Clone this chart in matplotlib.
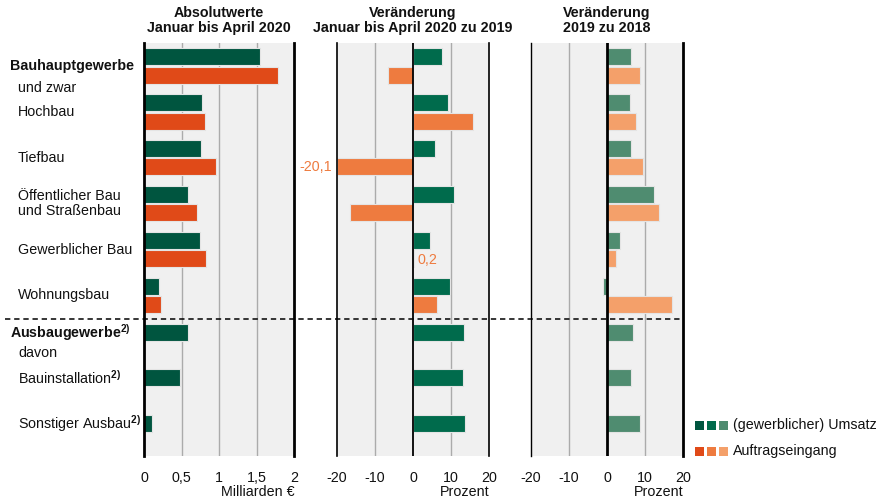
import matplotlib
matplotlib.use("Agg")
import matplotlib.pyplot as plt
from matplotlib.patches import Rectangle
from matplotlib.lines import Line2D
import matplotlib.transforms as mtransforms

plt.rcParams['font.family'] = ['Liberation Sans', 'DejaVu Sans']
plt.rcParams['mathtext.fontset'] = 'custom'
plt.rcParams['mathtext.rm'] = 'Liberation Sans'
plt.rcParams['mathtext.bf'] = 'Liberation Sans:bold'
plt.rcParams['mathtext.it'] = 'Liberation Sans'

# ---------------- data ----------------
groups = ["Bauhauptgewerbe", "Hochbau", "Tiefbau", "Öffentlicher Bau\nund Straßenbau",
          "Gewerblicher Bau", "Wohnungsbau", "Ausbaugewerbe", "Bauinstallation", "Sonstiger Ausbau"]

abs_umsatz = [1.55, 0.77, 0.76, 0.58, 0.75, 0.20, 0.59, 0.48, 0.10]
abs_auftrag = [1.78, 0.81, 0.96, 0.70, 0.83, 0.23, None, None, None]

chg20_umsatz = [7.6, 9.3, 5.7, 10.9, 4.4, 9.8, 13.3, 13.2, 13.7]
chg20_auftrag = [-6.5, 15.9, -20.1, -16.7, 0.2, 6.2, None, None, None]

chg19_umsatz = [6.3, 6.1, 6.4, 12.4, 3.5, -1.0, 6.8, 6.4, 8.6]
chg19_auftrag = [8.6, 7.7, 9.4, 13.6, 2.4, 17.2, None, None, None]

ticks_abs = [0, 0.5, 1, 1.5, 2]
ticklabels_abs = ["0", "0,5", "1", "1,5", "2"]
ticks_pct = [-20, -10, 0, 10, 20]
ticklabels_pct = ["-20", "-10", "0", "10", "20"]

# ---------------- styling ----------------
W, H = 880, 504
fig = plt.figure(figsize=(W / 100, H / 100), dpi=100)
FS = 10.3

green = ["#00553F", "#006B4C", "#4F8C70"]
orange = ["#E04A18", "#EE7B3F", "#F4A06A"]
bg = "#F0F0F0"
txtc = "#111111"

def px_axes(x0, x1, y0, y1):
    return fig.add_axes([x0 / W, 1 - y1 / H, (x1 - x0) / W, (y1 - y0) / H])

TOP, BOT = 43, 456
ax1 = px_axes(144, 294, TOP, BOT)
ax2 = px_axes(337, 489, TOP, BOT)
ax3 = px_axes(531, 683, TOP, BOT)

ypos = list(range(len(groups)))
BH = 0.37
OFF = 0.2

panels = [
    (ax1, abs_umsatz, abs_auftrag, (0, 2), ticks_abs, ticklabels_abs, [0.5, 1, 1.5], "Milliarden €",
     "Absolutwerte\nJanuar bis April 2020"),
    (ax2, chg20_umsatz, chg20_auftrag, (-20, 20), ticks_pct, ticklabels_pct, [-10, 10], "Prozent",
     "Veränderung\nJanuar bis April 2020 zu 2019"),
    (ax3, chg19_umsatz, chg19_auftrag, (-20, 20), ticks_pct, ticklabels_pct, [-10, 10], "Prozent",
     "Veränderung\n2019 zu 2018"),
]

for i, (ax, um, au, xl, tk, tkl, grid, xlabel, title) in enumerate(panels):
    ax.set_facecolor(bg)
    ax.set_xlim(*xl)
    ax.set_ylim(8.5, -0.5)
    for g in grid:
        ax.axvline(g, color="#ABABAB", lw=1.0, zorder=1)
    yu = [y - OFF for y in ypos]
    ax.barh(yu, um, height=BH, color=green[i], edgecolor="#E4E4E4", linewidth=0.8, zorder=3)
    ya = [y + OFF for y, v in zip(ypos, au) if v is not None]
    va = [v for v in au if v is not None]
    ax.barh(ya, va, height=BH, color=orange[i], edgecolor="#E4E4E4", linewidth=0.8, zorder=3)
    ax.set_xticks(tk)
    ax.set_xticklabels(tkl, fontsize=FS, color=txtc)
    ax.tick_params(axis="x", length=0, pad=10.5)
    ax.set_yticks([])
    for s in ["top", "bottom"]:
        ax.spines[s].set_visible(False)
    bb = ax.get_position()
    fig.text(bb.x1, 1 - 492 / H, xlabel, ha="right", va="center", fontsize=FS, color=txtc)
    fig.text((bb.x0 + bb.x1) / 2, 1 - 20.5 / H, title, ha="center", va="center",
             fontsize=FS, fontweight="bold", linespacing=1.1, color=txtc)

# spines
ax1.spines["left"].set_linewidth(2.0)
ax1.spines["right"].set_linewidth(2.0)
ax2.spines["left"].set_linewidth(1.2)
ax2.spines["right"].set_linewidth(1.2)
ax2.axvline(0, color="black", lw=1.3, zorder=4)
ax3.spines["left"].set_linewidth(1.0)
ax3.spines["right"].set_linewidth(2.0)
ax3.axvline(0, color="black", lw=2.0, zorder=4)
for ax in (ax1, ax2, ax3):
    ax.spines["left"].set_zorder(5)
    ax.spines["right"].set_zorder(5)

# value labels in middle panel
ax2.annotate("-20,1", xy=(-20, 2 + OFF), xytext=(-3.5, 0), textcoords="offset points",
             ha="right", va="center", fontsize=FS, color=orange[1], annotation_clip=False)
ax2.annotate("0,2", xy=(0.2, 4 + OFF + 0.02), xytext=(2.5, 0), textcoords="offset points",
             ha="left", va="center", fontsize=FS, color=orange[1], annotation_clip=False)

# row labels
tr = mtransforms.blended_transform_factory(fig.transFigure, ax1.transData)
xl1 = 10 / W
xl2 = 18 / W
labels = [
    (xl1, 0.0, "Bauhauptgewerbe", "bold"),
    (xl2, 0.48, "und zwar", "normal"),
    (xl2, 1.0, "Hochbau", "normal"),
    (xl2, 2.0, "Tiefbau", "normal"),
    (xl2, 3.0, groups[3], "normal"),
    (xl2, 4.0, "Gewerblicher Bau", "normal"),
    (xl2, 5.0, "Wohnungsbau", "normal"),
    (xl1, 5.8, r"Ausbaugewerbe$^{\mathbf{2)}}$", "bold"),
    (xl2, 6.25, "davon", "normal"),
    (xl2, 6.8, r"Bauinstallation$^{\mathbf{2)}}$", "normal"),
    (xl2, 7.8, r"Sonstiger Ausbau$^{\mathbf{2)}}$", "normal"),
]
for x, y, t, w in labels:
    fig.text(x, y, t, transform=tr, ha="left", va="center", fontsize=FS, fontweight=w,
             color=txtc, linespacing=1.15)

# dashed separator
ysep = 1 - 318.5 / H
fig.add_artist(Line2D([5 / W, 683 / W], [ysep, ysep], color="black", lw=1.1,
                      linestyle=(0, (3.5, 2.5)), zorder=10))

# legend
for row, (cols, txt) in enumerate([(green, "(gewerblicher) Umsatz"), (orange, "Auftragseingang")]):
    yc = [425, 451][row]
    for k, c in enumerate(cols):
        x0 = 695 + 12 * k
        fig.add_artist(Rectangle((x0 / W, 1 - (yc + 4.5) / H), 9 / W, 9 / H,
                                 transform=fig.transFigure, facecolor=c, edgecolor="none"))
    fig.text(733 / W, 1 - yc / H, txt, ha="left", va="center", fontsize=FS, color=txtc)

fig.savefig("out.png", dpi=100)
